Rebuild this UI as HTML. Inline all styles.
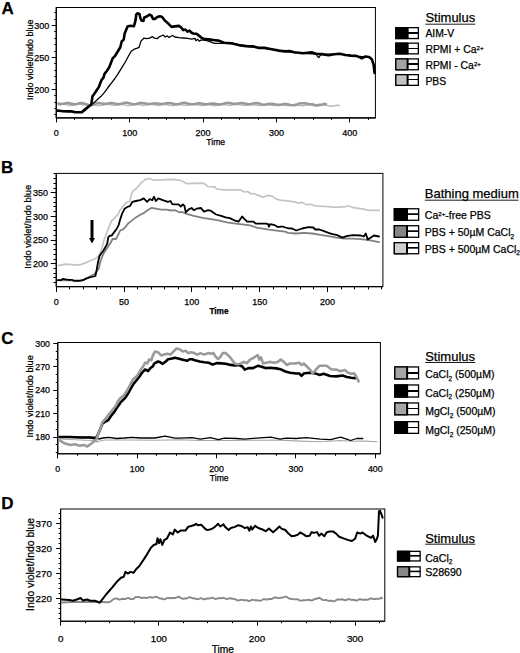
<!DOCTYPE html>
<html><head><meta charset="utf-8"><style>
html,body{margin:0;padding:0;background:#fff;}
svg{display:block;}
text{font-family:"Liberation Sans", sans-serif;fill:#000;stroke:#000;stroke-width:0.25px;}
</style></head><body>
<svg width="520" height="653" viewBox="0 0 520 653">
<rect width="520" height="653" fill="#fff"/>
<rect x="56.25" y="7.50" width="319.15" height="110.40" fill="none" stroke="#000" stroke-width="1"/>
<line x1="56.25" y1="7.50" x2="56.25" y2="117.90" stroke="#000" stroke-width="1.1"/>
<line x1="56.25" y1="117.90" x2="375.40" y2="117.90" stroke="#000" stroke-width="1.1"/>
<line x1="56.50" y1="117.90" x2="56.50" y2="122.40" stroke="#000" stroke-width="1.0"/>
<text x="56.25" y="135.80" font-size="9" text-anchor="middle" font-weight="normal" >0</text>
<line x1="129.50" y1="117.90" x2="129.50" y2="122.40" stroke="#000" stroke-width="1.0"/>
<text x="129.65" y="135.80" font-size="9" text-anchor="middle" font-weight="normal" >100</text>
<line x1="203.50" y1="117.90" x2="203.50" y2="122.40" stroke="#000" stroke-width="1.0"/>
<text x="203.05" y="135.80" font-size="9" text-anchor="middle" font-weight="normal" >200</text>
<line x1="276.50" y1="117.90" x2="276.50" y2="122.40" stroke="#000" stroke-width="1.0"/>
<text x="276.45" y="135.80" font-size="9" text-anchor="middle" font-weight="normal" >300</text>
<line x1="349.50" y1="117.90" x2="349.50" y2="122.40" stroke="#000" stroke-width="1.0"/>
<text x="349.85" y="135.80" font-size="9" text-anchor="middle" font-weight="normal" >400</text>
<line x1="74.50" y1="117.90" x2="74.50" y2="119.90" stroke="#000" stroke-width="1.0"/>
<line x1="92.50" y1="117.90" x2="92.50" y2="119.90" stroke="#000" stroke-width="1.0"/>
<line x1="111.50" y1="117.90" x2="111.50" y2="119.90" stroke="#000" stroke-width="1.0"/>
<line x1="148.50" y1="117.90" x2="148.50" y2="119.90" stroke="#000" stroke-width="1.0"/>
<line x1="166.50" y1="117.90" x2="166.50" y2="119.90" stroke="#000" stroke-width="1.0"/>
<line x1="184.50" y1="117.90" x2="184.50" y2="119.90" stroke="#000" stroke-width="1.0"/>
<line x1="221.50" y1="117.90" x2="221.50" y2="119.90" stroke="#000" stroke-width="1.0"/>
<line x1="239.50" y1="117.90" x2="239.50" y2="119.90" stroke="#000" stroke-width="1.0"/>
<line x1="258.50" y1="117.90" x2="258.50" y2="119.90" stroke="#000" stroke-width="1.0"/>
<line x1="294.50" y1="117.90" x2="294.50" y2="119.90" stroke="#000" stroke-width="1.0"/>
<line x1="313.50" y1="117.90" x2="313.50" y2="119.90" stroke="#000" stroke-width="1.0"/>
<line x1="331.50" y1="117.90" x2="331.50" y2="119.90" stroke="#000" stroke-width="1.0"/>
<line x1="368.50" y1="117.90" x2="368.50" y2="119.90" stroke="#000" stroke-width="1.0"/>
<line x1="56.25" y1="89.50" x2="51.75" y2="89.50" stroke="#000" stroke-width="1.0"/>
<text x="49.40" y="92.62" font-size="9" text-anchor="end" font-weight="normal" >200</text>
<line x1="56.25" y1="57.50" x2="51.75" y2="57.50" stroke="#000" stroke-width="1.0"/>
<text x="49.40" y="60.72" font-size="9" text-anchor="end" font-weight="normal" >250</text>
<line x1="56.25" y1="25.50" x2="51.75" y2="25.50" stroke="#000" stroke-width="1.0"/>
<text x="49.40" y="28.82" font-size="9" text-anchor="end" font-weight="normal" >300</text>
<line x1="56.25" y1="114.50" x2="54.25" y2="114.50" stroke="#000" stroke-width="1.0"/>
<line x1="56.25" y1="108.50" x2="54.25" y2="108.50" stroke="#000" stroke-width="1.0"/>
<line x1="56.25" y1="102.50" x2="54.25" y2="102.50" stroke="#000" stroke-width="1.0"/>
<line x1="56.25" y1="95.50" x2="54.25" y2="95.50" stroke="#000" stroke-width="1.0"/>
<line x1="56.25" y1="83.50" x2="54.25" y2="83.50" stroke="#000" stroke-width="1.0"/>
<line x1="56.25" y1="76.50" x2="54.25" y2="76.50" stroke="#000" stroke-width="1.0"/>
<line x1="56.25" y1="70.50" x2="54.25" y2="70.50" stroke="#000" stroke-width="1.0"/>
<line x1="56.25" y1="63.50" x2="54.25" y2="63.50" stroke="#000" stroke-width="1.0"/>
<line x1="56.25" y1="51.50" x2="54.25" y2="51.50" stroke="#000" stroke-width="1.0"/>
<line x1="56.25" y1="44.50" x2="54.25" y2="44.50" stroke="#000" stroke-width="1.0"/>
<line x1="56.25" y1="38.50" x2="54.25" y2="38.50" stroke="#000" stroke-width="1.0"/>
<line x1="56.25" y1="31.50" x2="54.25" y2="31.50" stroke="#000" stroke-width="1.0"/>
<line x1="56.25" y1="19.50" x2="54.25" y2="19.50" stroke="#000" stroke-width="1.0"/>
<line x1="56.25" y1="12.50" x2="54.25" y2="12.50" stroke="#000" stroke-width="1.0"/>
<text transform="translate(33.00,59.80) rotate(-90)" font-size="9" text-anchor="middle">Indo violet/Indo blue</text>
<text x="206.30" y="144.80" font-size="8.6" text-anchor="start" font-weight="normal" >Time</text>
<text x="1.60" y="13.70" font-size="17" text-anchor="start" font-weight="bold" >A</text>
<polyline points="58.4,104.9 59.9,104.7 61.4,104.4 62.9,104.3 64.4,104.3 65.9,104.6 67.4,105.0 68.9,105.3 70.4,105.5 71.9,105.4 73.4,105.1 74.9,104.7 76.4,104.3 77.9,104.1 79.4,104.2 80.9,104.3 82.4,104.6 83.9,104.8 85.4,104.8 86.9,104.9 88.4,104.7 89.9,104.6 91.4,104.5 92.9,104.6 94.4,104.9 95.9,105.2 97.4,105.5 98.9,105.6 100.4,105.6 101.9,105.4 103.4,105.0 104.9,104.7 106.4,104.4 107.9,104.4 109.4,104.6 110.9,104.9 112.4,105.2 113.9,105.4 115.4,105.3 116.9,105.1 118.4,104.8 119.9,104.5 121.4,104.5 122.9,104.6 124.4,104.9 125.9,105.2 127.4,105.5 128.9,105.6 130.4,105.5 131.9,105.1 133.4,104.8 134.9,104.5 136.4,104.5 137.9,104.6 139.4,104.8 140.9,105.1 142.4,105.3 143.9,105.2 145.4,105.0 146.9,104.6 148.4,104.3 149.9,104.1 151.4,104.2 152.9,104.5 154.4,104.8 155.9,105.2 157.4,105.3 158.9,105.3 160.4,105.1 161.9,104.8 163.4,104.6 164.9,104.5 166.4,104.7 167.9,105.0 169.4,105.4 170.9,105.6 172.4,105.6 173.9,105.5 175.4,105.1 176.9,104.8 178.4,104.6 179.9,104.5 181.4,104.7 182.9,105.0 184.4,105.2 185.9,105.4 187.4,105.3 188.9,105.1 190.4,104.7 191.9,104.5 193.4,104.4 194.9,104.5 196.4,104.8 197.9,105.1 199.4,105.4 200.9,105.6 202.4,105.5 203.9,105.3 205.4,105.0 206.9,104.8 208.4,104.8 209.9,104.9 211.4,105.2 212.9,105.5 214.4,105.7 215.9,105.6 217.4,105.4 218.9,105.1 220.4,104.7 221.9,104.5 223.4,104.5 224.9,104.7 226.4,104.9 227.9,105.2 229.4,105.3 230.9,105.2 232.4,105.0 233.9,104.8 235.4,104.5 236.9,104.4 238.4,104.5 239.9,104.8 241.4,105.1 242.9,105.4 244.4,105.5 245.9,105.4 247.4,105.2 248.9,104.9 250.4,104.7 251.9,104.6 253.4,104.8 254.9,105.0 256.4,105.3 257.9,105.5 259.4,105.5 260.9,105.3 262.4,105.0 263.9,104.7 265.4,104.5 266.9,104.6 268.4,104.8 269.9,105.1 271.4,105.4 272.9,105.5 274.4,105.5 275.9,105.2 277.4,104.9 278.9,104.7 280.4,104.6 281.9,104.7 283.4,105.0 284.9,105.3 286.4,105.6 287.9,105.7 289.4,105.5 290.9,105.3 292.4,105.0 293.9,104.8 295.4,104.8 296.9,105.0 298.4,105.3 299.9,105.6 301.4,105.8 302.9,105.8 304.4,105.6 305.9,105.3 307.4,105.0 308.9,104.9 310.4,105.0 311.9,105.2 313.4,105.5 314.9,105.8 316.4,106.0 317.9,105.9 319.4,105.7 320.9,105.4 322.4,105.1 323.9,105.1 325.4,105.2 326.9,105.5 328.4,105.8 329.9,106.1 331.4,106.2 332.9,106.0 334.4,105.8 335.9,105.5 337.4,105.3 338.9,105.3 339.2,106.0" fill="none" stroke="#bababa" stroke-width="1.4" stroke-linejoin="round" stroke-linecap="round"/>
<polyline points="58.4,103.6 59.9,103.9 61.4,104.0 62.9,103.8 64.4,103.5 65.9,103.2 67.4,103.1 68.9,103.1 70.4,103.4 71.9,103.9 73.4,104.1 74.9,104.2 76.4,104.1 77.9,103.8 79.4,103.3 80.9,103.0 82.4,103.1 83.9,103.4 85.4,103.9 86.9,104.4 88.4,104.9 89.9,105.2 91.4,105.2 92.9,104.8 94.4,104.2 95.9,103.5 97.4,103.1 98.9,103.0 100.4,103.2 101.9,103.6 103.4,103.8 104.9,103.8 106.4,103.8 107.9,103.6 109.4,103.3 110.9,103.1 112.4,103.1 113.9,103.4 115.4,103.7 116.9,104.0 118.4,104.1 119.9,104.0 121.4,103.7 122.9,103.3 124.4,102.9 125.9,102.7 127.4,102.8 128.9,103.2 130.4,103.6 131.9,104.0 133.4,104.2 134.9,104.3 136.4,103.9 137.9,103.5 139.4,103.1 140.9,103.0 142.4,103.0 143.9,103.2 145.4,103.5 146.9,103.9 148.4,104.1 149.9,104.0 151.4,103.8 152.9,103.6 154.4,103.5 155.9,103.4 157.4,103.5 158.9,103.7 160.4,103.9 161.9,104.0 163.4,103.9 164.9,103.6 166.4,103.3 167.9,103.1 169.4,103.0 170.9,103.2 172.4,103.5 173.9,104.0 175.4,104.3 176.9,104.3 178.4,104.2 179.9,103.8 181.4,103.3 182.9,103.0 184.4,102.8 185.9,103.0 187.4,103.4 188.9,103.8 190.4,104.2 191.9,104.3 193.4,104.3 194.9,104.0 196.4,103.7 197.9,103.4 199.4,103.3 200.9,103.5 202.4,103.7 203.9,104.0 205.4,104.2 206.9,104.2 208.4,104.1 209.9,103.8 211.4,103.6 212.9,103.5 214.4,103.7 215.9,103.9 217.4,104.2 218.9,104.4 220.4,104.4 221.9,104.2 223.4,103.8 224.9,103.3 226.4,103.0 227.9,102.9 229.4,103.0 230.9,103.2 232.4,103.5 233.9,103.7 235.4,103.8 236.9,103.7 238.4,103.4 239.9,103.2 241.4,103.1 242.9,103.2 244.4,103.5 245.9,103.8 247.4,104.1 248.9,104.2 250.4,104.1 251.9,103.8 253.4,103.4 254.9,103.1 256.4,103.0 257.9,103.2 259.4,103.6 260.9,104.1 262.4,104.5 263.9,104.7 265.4,104.6 266.9,104.3 268.4,104.0 269.9,103.8 271.4,103.7 272.9,103.9 274.4,104.2 275.9,104.6 277.4,104.9 278.9,104.9 280.4,104.7 281.9,104.4 283.4,104.1 284.9,104.0 286.4,104.0 287.9,104.3 289.4,104.7 290.9,105.0 292.4,105.2 293.9,105.1 295.4,104.9 296.9,104.4 298.4,103.8 299.9,103.5 301.4,103.3 302.9,103.3 304.4,103.4 305.9,103.3 307.4,103.7 308.9,104.0 310.4,104.2 311.9,104.3 313.4,104.6 314.9,105.0 316.4,105.2 317.9,105.0 319.4,104.9 320.9,104.7 322.4,104.5 323.9,104.0 325.4,103.9 325.8,104.0" fill="none" stroke="#999999" stroke-width="2.6" stroke-linejoin="round" stroke-linecap="round"/>
<polyline points="57.5,111.0 81.9,111.8 85.0,110.7 89.6,106.1 94.2,102.6 97.6,99.2 101.1,96.3 104.5,92.3 107.4,88.3 109.1,86.0 111.4,83.1 114.9,78.5 118.3,73.3 121.8,67.6 124.7,63.0 126.5,59.8 128.5,56.0 131.3,51.2 134.2,49.2 136.6,48.3 139.0,47.3 140.0,44.4 141.0,41.1 143.8,38.2 146.7,38.7 149.6,38.2 152.5,36.7 154.4,38.2 157.3,38.7 159.2,36.7 160.0,36.5 163.2,35.1 165.3,37.0 167.4,35.9 169.0,37.5 170.6,36.5 172.7,35.4 174.8,37.0 179.0,37.7 183.3,38.0 187.5,38.4 191.7,39.1 194.9,38.4 196.0,40.7 197.6,39.1 199.2,41.2 200.7,40.2 204.4,40.2 208.7,41.2 212.9,42.8 215.0,43.3 218.7,43.3 222.4,43.3 231.5,43.6 246.2,46.3 264.4,48.1 285.0,51.6 303.3,53.4 316.1,54.0 317.5,56.5 318.8,57.6 320.2,55.5 321.5,54.3 339.8,53.9 356.2,56.1 369.0,57.2 372.0,59.5" fill="none" stroke="#000" stroke-width="1.3" stroke-linejoin="round" stroke-linecap="round"/>
<polyline points="57.5,110.5 63.0,111.2 68.5,111.4 71.2,111.2 75.2,112.2 81.9,112.2 85.0,109.3 88.4,106.7 91.3,104.4 92.5,96.3 94.2,94.0 96.5,90.6 98.8,87.1 100.5,82.5 101.7,79.7 103.4,77.9 104.5,73.9 106.8,71.0 109.1,67.6 110.9,63.0 112.6,58.4 114.9,56.1 117.9,51.2 120.3,47.3 121.7,41.5 123.7,39.6 124.6,33.8 126.1,30.0 127.5,26.6 130.4,25.7 133.8,26.2 134.7,23.8 135.7,19.4 136.2,14.6 137.6,13.2 139.5,14.1 140.5,18.5 141.4,20.4 143.4,20.9 144.3,17.5 146.7,16.5 149.6,14.6 151.5,15.6 153.0,18.9 154.9,18.9 157.3,17.0 160.0,16.3 162.1,16.9 164.8,20.6 167.4,22.7 169.5,24.8 171.6,26.9 174.8,26.4 179.0,25.9 181.2,27.5 183.3,30.1 185.4,29.6 187.5,31.7 189.6,30.6 191.7,32.8 193.9,33.8 196.5,33.8 199.2,35.9 201.8,38.0 204.4,39.1 208.7,39.4 215.0,40.2 218.7,40.6 224.2,42.8 231.5,43.3 238.8,45.1 246.2,46.1 253.5,46.4 258.9,47.9 264.4,47.9 271.7,49.3 279.0,50.6 285.0,51.4 289.6,51.0 294.1,52.3 303.3,53.2 311.5,52.3 316.1,53.7 321.5,54.1 328.8,55.2 334.3,54.3 339.8,53.7 345.3,55.0 350.8,55.6 356.2,55.9 359.9,57.4 361.7,58.3 365.4,56.5 369.0,57.0 371.8,59.2 373.6,64.7 374.5,72.9" fill="none" stroke="#000" stroke-width="2.6" stroke-linejoin="round" stroke-linecap="round"/>
<text x="425.40" y="22.00" font-size="13" text-anchor="start" font-weight="normal" >Stimulus</text>
<rect x="395.85" y="27.65" width="22.50" height="10.90" fill="#fff" stroke="#000" stroke-width="1.3"/>
<rect x="395.85" y="27.65" width="11.73" height="10.90" fill="#000" stroke="#000" stroke-width="1.3"/>
<line x1="407.58" y1="27.50" x2="407.58" y2="38.70" stroke="#000" stroke-width="1.9"/>
<line x1="407.58" y1="33.00" x2="418.40" y2="33.00" stroke="#000" stroke-width="2.0"/>
<text x="425.40" y="37.00" font-size="10.4">AIM-V</text>
<rect x="395.85" y="43.15" width="22.50" height="10.70" fill="#fff" stroke="#000" stroke-width="1.3"/>
<rect x="395.85" y="43.15" width="11.73" height="10.70" fill="#000" stroke="#000" stroke-width="1.3"/>
<line x1="407.58" y1="43.00" x2="407.58" y2="54.00" stroke="#000" stroke-width="1.9"/>
<line x1="407.58" y1="48.50" x2="418.40" y2="48.50" stroke="#000" stroke-width="1.0"/>
<text x="425.40" y="53.10" font-size="10.4">RPMI + Ca<tspan font-size="6.2" dy="-3.2">2+</tspan></text>
<rect x="395.85" y="58.90" width="22.50" height="10.85" fill="#fff" stroke="#000" stroke-width="1.3"/>
<rect x="395.85" y="58.90" width="11.73" height="10.85" fill="#a4a4a4" stroke="#000" stroke-width="1.3"/>
<line x1="407.58" y1="58.75" x2="407.58" y2="69.90" stroke="#000" stroke-width="1.9"/>
<line x1="407.58" y1="64.00" x2="418.40" y2="64.00" stroke="#000" stroke-width="2.0"/>
<text x="425.40" y="69.30" font-size="10.4">RPMI - Ca<tspan font-size="6.2" dy="-3.2">2+</tspan></text>
<rect x="395.85" y="74.65" width="22.50" height="10.70" fill="#fff" stroke="#000" stroke-width="1.3"/>
<rect x="395.85" y="74.65" width="11.73" height="10.70" fill="#c2c2c2" stroke="#000" stroke-width="1.3"/>
<line x1="407.58" y1="74.50" x2="407.58" y2="85.50" stroke="#000" stroke-width="1.9"/>
<line x1="407.58" y1="79.50" x2="418.40" y2="79.50" stroke="#000" stroke-width="1.0"/>
<text x="425.40" y="85.40" font-size="10.4">PBS</text>
<line x1="425.40" y1="24.20" x2="475.20" y2="24.20" stroke="#000" stroke-width="0.9"/>
<rect x="56.25" y="173.40" width="326.65" height="113.20" fill="none" stroke="#000" stroke-width="1"/>
<line x1="56.25" y1="173.40" x2="56.25" y2="286.60" stroke="#000" stroke-width="1.1"/>
<line x1="56.25" y1="286.60" x2="382.90" y2="286.60" stroke="#000" stroke-width="1.1"/>
<line x1="56.50" y1="286.60" x2="56.50" y2="292.10" stroke="#000" stroke-width="1.0"/>
<text x="56.25" y="304.60" font-size="9" text-anchor="middle" font-weight="normal" >0</text>
<line x1="124.50" y1="286.60" x2="124.50" y2="292.10" stroke="#000" stroke-width="1.0"/>
<text x="124.05" y="304.60" font-size="9" text-anchor="middle" font-weight="normal" >50</text>
<line x1="191.50" y1="286.60" x2="191.50" y2="292.10" stroke="#000" stroke-width="1.0"/>
<text x="191.85" y="304.60" font-size="9" text-anchor="middle" font-weight="normal" >100</text>
<line x1="259.50" y1="286.60" x2="259.50" y2="292.10" stroke="#000" stroke-width="1.0"/>
<text x="259.65" y="304.60" font-size="9" text-anchor="middle" font-weight="normal" >150</text>
<line x1="327.50" y1="286.60" x2="327.50" y2="292.10" stroke="#000" stroke-width="1.0"/>
<text x="327.45" y="304.60" font-size="9" text-anchor="middle" font-weight="normal" >200</text>
<line x1="69.50" y1="286.60" x2="69.50" y2="289.40" stroke="#000" stroke-width="1.0"/>
<line x1="83.50" y1="286.60" x2="83.50" y2="289.40" stroke="#000" stroke-width="1.0"/>
<line x1="96.50" y1="286.60" x2="96.50" y2="289.40" stroke="#000" stroke-width="1.0"/>
<line x1="110.50" y1="286.60" x2="110.50" y2="289.40" stroke="#000" stroke-width="1.0"/>
<line x1="137.50" y1="286.60" x2="137.50" y2="289.40" stroke="#000" stroke-width="1.0"/>
<line x1="151.50" y1="286.60" x2="151.50" y2="289.40" stroke="#000" stroke-width="1.0"/>
<line x1="164.50" y1="286.60" x2="164.50" y2="289.40" stroke="#000" stroke-width="1.0"/>
<line x1="178.50" y1="286.60" x2="178.50" y2="289.40" stroke="#000" stroke-width="1.0"/>
<line x1="205.50" y1="286.60" x2="205.50" y2="289.40" stroke="#000" stroke-width="1.0"/>
<line x1="218.50" y1="286.60" x2="218.50" y2="289.40" stroke="#000" stroke-width="1.0"/>
<line x1="232.50" y1="286.60" x2="232.50" y2="289.40" stroke="#000" stroke-width="1.0"/>
<line x1="246.50" y1="286.60" x2="246.50" y2="289.40" stroke="#000" stroke-width="1.0"/>
<line x1="273.50" y1="286.60" x2="273.50" y2="289.40" stroke="#000" stroke-width="1.0"/>
<line x1="286.50" y1="286.60" x2="286.50" y2="289.40" stroke="#000" stroke-width="1.0"/>
<line x1="300.50" y1="286.60" x2="300.50" y2="289.40" stroke="#000" stroke-width="1.0"/>
<line x1="313.50" y1="286.60" x2="313.50" y2="289.40" stroke="#000" stroke-width="1.0"/>
<line x1="341.50" y1="286.60" x2="341.50" y2="289.40" stroke="#000" stroke-width="1.0"/>
<line x1="354.50" y1="286.60" x2="354.50" y2="289.40" stroke="#000" stroke-width="1.0"/>
<line x1="368.50" y1="286.60" x2="368.50" y2="289.40" stroke="#000" stroke-width="1.0"/>
<line x1="381.50" y1="286.60" x2="381.50" y2="289.40" stroke="#000" stroke-width="1.0"/>
<line x1="56.25" y1="263.50" x2="50.75" y2="263.50" stroke="#000" stroke-width="1.0"/>
<text x="48.00" y="266.97" font-size="9" text-anchor="end" font-weight="normal" >200</text>
<line x1="56.25" y1="240.50" x2="50.75" y2="240.50" stroke="#000" stroke-width="1.0"/>
<text x="48.00" y="243.31" font-size="9" text-anchor="end" font-weight="normal" >250</text>
<line x1="56.25" y1="216.50" x2="50.75" y2="216.50" stroke="#000" stroke-width="1.0"/>
<text x="48.00" y="219.64" font-size="9" text-anchor="end" font-weight="normal" >300</text>
<line x1="56.25" y1="192.50" x2="50.75" y2="192.50" stroke="#000" stroke-width="1.0"/>
<text x="48.00" y="195.98" font-size="9" text-anchor="end" font-weight="normal" >350</text>
<line x1="56.25" y1="282.50" x2="53.45" y2="282.50" stroke="#000" stroke-width="1.0"/>
<line x1="56.25" y1="277.50" x2="53.45" y2="277.50" stroke="#000" stroke-width="1.0"/>
<line x1="56.25" y1="273.50" x2="53.45" y2="273.50" stroke="#000" stroke-width="1.0"/>
<line x1="56.25" y1="268.50" x2="53.45" y2="268.50" stroke="#000" stroke-width="1.0"/>
<line x1="56.25" y1="259.50" x2="53.45" y2="259.50" stroke="#000" stroke-width="1.0"/>
<line x1="56.25" y1="254.50" x2="53.45" y2="254.50" stroke="#000" stroke-width="1.0"/>
<line x1="56.25" y1="249.50" x2="53.45" y2="249.50" stroke="#000" stroke-width="1.0"/>
<line x1="56.25" y1="244.50" x2="53.45" y2="244.50" stroke="#000" stroke-width="1.0"/>
<line x1="56.25" y1="235.50" x2="53.45" y2="235.50" stroke="#000" stroke-width="1.0"/>
<line x1="56.25" y1="230.50" x2="53.45" y2="230.50" stroke="#000" stroke-width="1.0"/>
<line x1="56.25" y1="225.50" x2="53.45" y2="225.50" stroke="#000" stroke-width="1.0"/>
<line x1="56.25" y1="221.50" x2="53.45" y2="221.50" stroke="#000" stroke-width="1.0"/>
<line x1="56.25" y1="211.50" x2="53.45" y2="211.50" stroke="#000" stroke-width="1.0"/>
<line x1="56.25" y1="206.50" x2="53.45" y2="206.50" stroke="#000" stroke-width="1.0"/>
<line x1="56.25" y1="202.50" x2="53.45" y2="202.50" stroke="#000" stroke-width="1.0"/>
<line x1="56.25" y1="197.50" x2="53.45" y2="197.50" stroke="#000" stroke-width="1.0"/>
<line x1="56.25" y1="188.50" x2="53.45" y2="188.50" stroke="#000" stroke-width="1.0"/>
<line x1="56.25" y1="183.50" x2="53.45" y2="183.50" stroke="#000" stroke-width="1.0"/>
<line x1="56.25" y1="178.50" x2="53.45" y2="178.50" stroke="#000" stroke-width="1.0"/>
<line x1="56.25" y1="173.50" x2="53.45" y2="173.50" stroke="#000" stroke-width="1.0"/>
<text transform="translate(31.20,226.70) rotate(-90)" font-size="9.4" text-anchor="middle">Indo violet/Indo blue</text>
<text x="209.40" y="313.80" font-size="8.3" text-anchor="start" font-weight="bold" >Time</text>
<text x="0.90" y="173.30" font-size="17" text-anchor="start" font-weight="bold" >B</text>
<polyline points="58.5,265.6 61.9,264.8 65.4,264.1 70.0,264.4 74.6,265.2 81.5,264.4 87.3,262.1 90.0,260.7 93.1,259.8 96.9,257.7 99.5,254.6 102.1,247.7 103.8,240.8 106.4,233.8 109.0,226.9 111.6,220.9 115.1,217.4 117.7,214.8 120.3,209.6 123.7,205.3 126.3,202.7 129.8,201.0 131.5,194.0 133.3,190.6 135.9,188.8 138.5,186.2 141.1,182.8 145.4,179.3 149.7,178.5 154.0,180.2 162.7,179.8 171.3,179.3 180.0,180.2 183.0,181.5 186.9,183.7 192.7,183.3 203.1,183.1 205.5,184.5 207.7,186.5 214.6,186.8 216.9,189.1 223.8,189.8 240.0,189.8 244.6,192.0 247.7,191.5 250.8,193.8 253.8,193.5 258.5,195.4 263.1,197.2 267.7,195.4 272.3,196.2 276.2,199.2 281.5,200.3 287.7,200.8 293.8,201.8 298.5,203.1 301.5,202.3 306.2,204.6 310.8,204.3 314.6,205.8 319.2,206.1 325.4,206.5 331.5,206.8 336.2,207.3 340.8,206.8 344.6,207.0 348.5,205.8 352.3,207.3 356.2,208.1 362.3,208.8 367.7,210.1 373.1,210.4 379.2,210.4" fill="none" stroke="#c4c4c4" stroke-width="1.7" stroke-linejoin="round" stroke-linecap="round"/>
<polyline points="57.9,280.4 82.7,280.4 86.2,278.4 89.6,276.5 94.2,274.2 95.4,273.0 98.8,268.5 100.4,261.5 103.0,254.6 107.3,247.7 110.8,242.5 112.5,239.0 116.0,239.0 118.6,233.8 120.3,230.4 122.9,229.5 125.5,226.9 128.1,223.5 131.5,220.9 135.9,217.4 140.2,214.8 143.7,213.1 147.1,210.5 151.4,207.9 155.8,208.7 161.0,209.6 166.2,209.6 171.3,210.5 175.0,210.2 179.3,212.3 182.2,212.0 186.5,213.8 193.8,215.9 203.9,218.1 211.1,219.2 218.3,220.3 227.0,222.4 235.6,223.6 244.3,224.6 250.0,225.3 256.7,227.6 268.9,229.6 276.9,230.6 285.0,231.6 288.1,232.9 296.2,233.5 304.2,232.9 312.3,233.5 320.4,234.9 328.5,236.1 336.5,237.6 344.6,238.6 352.7,238.6 360.8,239.2 368.9,240.2 379.0,242.2" fill="none" stroke="#808080" stroke-width="1.8" stroke-linejoin="round" stroke-linecap="round"/>
<polyline points="57.9,280.2 60.8,280.2 63.1,278.8 65.4,279.4 68.8,279.8 71.7,279.8 74.0,280.9 76.9,280.9 79.8,280.9 82.7,280.2 86.2,278.6 89.6,277.5 95.4,276.0 96.5,270.8 97.7,263.8 99.4,256.3 101.2,253.5 103.0,251.2 105.6,246.8 107.3,243.4 108.2,237.3 109.9,235.6 111.6,235.6 114.2,232.1 116.8,228.7 118.6,225.2 120.3,219.1 122.0,213.9 124.6,208.7 127.2,207.0 129.8,206.2 132.4,201.8 135.9,201.0 140.2,200.1 143.7,198.4 147.1,201.8 149.7,199.2 152.3,200.1 154.0,196.6 155.8,201.0 158.4,198.4 162.7,200.1 167.9,201.8 170.5,201.0 172.2,204.1 175.0,204.4 178.6,204.4 180.8,206.5 182.9,204.4 184.4,205.8 185.8,212.3 188.7,209.4 191.6,208.0 193.8,210.2 196.6,208.7 201.0,208.0 203.9,211.6 208.2,210.2 211.1,210.9 216.1,214.5 221.2,215.9 225.5,217.4 229.8,218.1 234.2,220.3 238.5,221.7 242.1,216.4 244.3,218.8 247.2,221.7 250.0,221.6 253.4,221.6 255.9,223.7 266.0,223.7 268.1,224.2 269.0,226.7 270.2,224.2 272.7,224.6 275.3,225.4 277.8,227.1 280.3,226.7 282.8,226.7 285.4,227.5 288.7,228.4 292.1,228.5 296.2,230.5 302.2,228.5 308.3,227.1 313.3,227.5 315.3,229.5 319.4,229.5 323.4,230.9 328.5,232.9 332.5,234.1 336.5,234.9 342.6,237.6 346.6,236.1 352.7,235.1 360.8,235.5 363.8,236.5 365.8,233.5 367.8,239.6 370.9,237.6 373.9,235.5 379.0,236.5" fill="none" stroke="#000" stroke-width="1.8" stroke-linejoin="round" stroke-linecap="round"/>
<line x1="92.00" y1="220.00" x2="92.00" y2="239.00" stroke="#000" stroke-width="3.0"/>
<polygon points="89.0,238 95.0,238 92,243.6" fill="#000"/>
<text x="424.80" y="198.30" font-size="13" text-anchor="start" font-weight="normal" >Bathing medium</text>
<rect x="394.35" y="208.75" width="24.30" height="11.50" fill="#fff" stroke="#000" stroke-width="1.3"/>
<rect x="394.35" y="208.75" width="12.66" height="11.50" fill="#000" stroke="#000" stroke-width="1.3"/>
<line x1="407.01" y1="208.60" x2="407.01" y2="220.40" stroke="#000" stroke-width="1.9"/>
<line x1="407.01" y1="214.12" x2="418.70" y2="214.12" stroke="#000" stroke-width="1.7"/>
<text x="424.80" y="218.80" font-size="10.5">Ca<tspan font-size="6.2" dy="-3.2">2+</tspan><tspan dy="3.2">-free PBS</tspan></text>
<rect x="394.35" y="225.75" width="24.30" height="11.50" fill="#fff" stroke="#000" stroke-width="1.3"/>
<rect x="394.35" y="225.75" width="12.66" height="11.50" fill="#868686" stroke="#000" stroke-width="1.3"/>
<line x1="407.01" y1="225.60" x2="407.01" y2="237.40" stroke="#000" stroke-width="1.9"/>
<line x1="407.01" y1="231.12" x2="418.70" y2="231.12" stroke="#000" stroke-width="1.7"/>
<text x="424.80" y="236.00" font-size="10.5">PBS + 50µM CaCl<tspan font-size="6.5" dy="2.5">2</tspan></text>
<rect x="394.35" y="242.65" width="24.30" height="11.10" fill="#fff" stroke="#000" stroke-width="1.3"/>
<rect x="394.35" y="242.65" width="12.66" height="11.10" fill="#cfcfcf" stroke="#000" stroke-width="1.3"/>
<line x1="407.01" y1="242.50" x2="407.01" y2="253.90" stroke="#000" stroke-width="1.9"/>
<line x1="407.01" y1="247.83" x2="418.70" y2="247.83" stroke="#000" stroke-width="1.7"/>
<text x="424.80" y="252.90" font-size="10.5">PBS + 500µM CaCl<tspan font-size="6.5" dy="2.5">2</tspan></text>
<line x1="424.80" y1="200.20" x2="518.50" y2="200.20" stroke="#000" stroke-width="0.9"/>
<rect x="57.75" y="342.50" width="322.65" height="111.30" fill="none" stroke="#000" stroke-width="1"/>
<line x1="57.75" y1="342.50" x2="57.75" y2="453.80" stroke="#000" stroke-width="1.1"/>
<line x1="57.75" y1="453.80" x2="380.40" y2="453.80" stroke="#000" stroke-width="1.1"/>
<line x1="57.50" y1="453.80" x2="57.50" y2="458.30" stroke="#000" stroke-width="1.0"/>
<text x="57.70" y="472.20" font-size="8.8" text-anchor="middle" font-weight="normal" >0</text>
<line x1="137.50" y1="453.80" x2="137.50" y2="458.30" stroke="#000" stroke-width="1.0"/>
<text x="137.10" y="472.20" font-size="8.8" text-anchor="middle" font-weight="normal" >100</text>
<line x1="216.50" y1="453.80" x2="216.50" y2="458.30" stroke="#000" stroke-width="1.0"/>
<text x="216.50" y="472.20" font-size="8.8" text-anchor="middle" font-weight="normal" >200</text>
<line x1="295.50" y1="453.80" x2="295.50" y2="458.30" stroke="#000" stroke-width="1.0"/>
<text x="295.90" y="472.20" font-size="8.8" text-anchor="middle" font-weight="normal" >300</text>
<line x1="375.50" y1="453.80" x2="375.50" y2="458.30" stroke="#000" stroke-width="1.0"/>
<text x="375.30" y="472.20" font-size="8.8" text-anchor="middle" font-weight="normal" >400</text>
<line x1="77.50" y1="453.80" x2="77.50" y2="455.80" stroke="#000" stroke-width="1.0"/>
<line x1="97.50" y1="453.80" x2="97.50" y2="455.80" stroke="#000" stroke-width="1.0"/>
<line x1="117.50" y1="453.80" x2="117.50" y2="455.80" stroke="#000" stroke-width="1.0"/>
<line x1="156.50" y1="453.80" x2="156.50" y2="455.80" stroke="#000" stroke-width="1.0"/>
<line x1="176.50" y1="453.80" x2="176.50" y2="455.80" stroke="#000" stroke-width="1.0"/>
<line x1="196.50" y1="453.80" x2="196.50" y2="455.80" stroke="#000" stroke-width="1.0"/>
<line x1="236.50" y1="453.80" x2="236.50" y2="455.80" stroke="#000" stroke-width="1.0"/>
<line x1="256.50" y1="453.80" x2="256.50" y2="455.80" stroke="#000" stroke-width="1.0"/>
<line x1="276.50" y1="453.80" x2="276.50" y2="455.80" stroke="#000" stroke-width="1.0"/>
<line x1="315.50" y1="453.80" x2="315.50" y2="455.80" stroke="#000" stroke-width="1.0"/>
<line x1="335.50" y1="453.80" x2="335.50" y2="455.80" stroke="#000" stroke-width="1.0"/>
<line x1="355.50" y1="453.80" x2="355.50" y2="455.80" stroke="#000" stroke-width="1.0"/>
<line x1="57.75" y1="437.50" x2="53.25" y2="437.50" stroke="#000" stroke-width="1.0"/>
<text x="50.00" y="440.15" font-size="8.8" text-anchor="end" font-weight="normal" >180</text>
<line x1="57.75" y1="413.50" x2="53.25" y2="413.50" stroke="#000" stroke-width="1.0"/>
<text x="50.00" y="416.75" font-size="8.8" text-anchor="end" font-weight="normal" >210</text>
<line x1="57.75" y1="390.50" x2="53.25" y2="390.50" stroke="#000" stroke-width="1.0"/>
<text x="50.00" y="393.35" font-size="8.8" text-anchor="end" font-weight="normal" >240</text>
<line x1="57.75" y1="366.50" x2="53.25" y2="366.50" stroke="#000" stroke-width="1.0"/>
<text x="50.00" y="369.95" font-size="8.8" text-anchor="end" font-weight="normal" >270</text>
<line x1="57.75" y1="343.50" x2="53.25" y2="343.50" stroke="#000" stroke-width="1.0"/>
<text x="50.00" y="346.55" font-size="8.8" text-anchor="end" font-weight="normal" >300</text>
<line x1="57.75" y1="452.50" x2="55.75" y2="452.50" stroke="#000" stroke-width="1.0"/>
<line x1="57.75" y1="444.50" x2="55.75" y2="444.50" stroke="#000" stroke-width="1.0"/>
<line x1="57.75" y1="429.50" x2="55.75" y2="429.50" stroke="#000" stroke-width="1.0"/>
<line x1="57.75" y1="421.50" x2="55.75" y2="421.50" stroke="#000" stroke-width="1.0"/>
<line x1="57.75" y1="405.50" x2="55.75" y2="405.50" stroke="#000" stroke-width="1.0"/>
<line x1="57.75" y1="398.50" x2="55.75" y2="398.50" stroke="#000" stroke-width="1.0"/>
<line x1="57.75" y1="382.50" x2="55.75" y2="382.50" stroke="#000" stroke-width="1.0"/>
<line x1="57.75" y1="374.50" x2="55.75" y2="374.50" stroke="#000" stroke-width="1.0"/>
<line x1="57.75" y1="359.50" x2="55.75" y2="359.50" stroke="#000" stroke-width="1.0"/>
<line x1="57.75" y1="351.50" x2="55.75" y2="351.50" stroke="#000" stroke-width="1.0"/>
<text transform="translate(33.00,396.30) rotate(-90)" font-size="9.2" text-anchor="middle">Indo violet/Indo blue</text>
<text x="209.80" y="481.40" font-size="8.6" text-anchor="start" font-weight="normal" >Time</text>
<text x="1.30" y="344.10" font-size="17" text-anchor="start" font-weight="bold" >C</text>
<polyline points="59.6,439.0 70.0,439.5 80.0,440.0 92.5,440.5 96.5,441.9 100.0,441.0 105.0,440.0 130.0,440.0 155.0,440.2 180.0,439.7 200.0,440.5 230.0,440.5 260.0,440.2 280.0,440.1 300.2,441.1 320.4,441.7 340.6,440.5 352.7,441.3 364.8,441.1 377.0,441.7" fill="none" stroke="#a8a8a8" stroke-width="1.1" stroke-linejoin="round" stroke-linecap="round"/>
<polyline points="59.6,437.0 96.5,437.5 99.0,439.0 102.7,438.0 108.8,437.3 116.5,438.5 124.2,438.0 131.9,437.3 140.0,438.0 155.0,438.0 165.0,436.2 175.0,438.2 180.0,438.1 192.1,437.7 200.2,439.1 210.3,437.7 218.4,439.7 224.4,438.1 236.5,438.5 244.6,439.1 256.7,438.1 270.9,437.1 280.0,439.1 286.0,438.1 296.2,438.5 306.3,437.7 320.4,439.1 330.5,439.7 340.6,437.1 346.6,439.1 350.7,440.5 356.7,438.5 362.8,438.5" fill="none" stroke="#000" stroke-width="1.3" stroke-linejoin="round" stroke-linecap="round"/>
<polyline points="59.6,437.0 70.0,437.0 80.0,437.5 90.0,437.5 96.1,438.4 98.4,433.5 100.7,428.0 102.5,423.5 105.3,421.6 108.4,420.0 111.4,415.4 114.5,411.6 117.0,407.5 119.1,404.7 120.6,402.4 123.0,400.0 125.2,397.8 128.3,393.2 130.5,389.0 132.9,384.8 135.9,381.0 139.0,377.2 142.1,372.6 145.1,369.5 148.2,371.0 150.5,368.0 152.8,366.4 154.3,363.4 155.0,363.1 158.1,361.5 160.4,362.3 162.7,363.8 165.8,361.5 168.1,359.2 171.9,358.5 175.0,357.7 178.1,358.5 182.7,359.7 187.3,360.8 189.6,359.2 191.9,359.2 195.0,360.3 199.6,361.5 204.2,362.3 208.8,362.8 212.7,364.6 216.5,363.1 221.2,363.4 225.8,363.8 230.4,364.9 235.0,365.4 239.2,365.0 242.3,366.5 244.6,369.6 248.5,368.1 253.1,368.1 257.7,365.8 260.8,366.5 265.4,368.1 270.0,367.8 276.2,368.4 280.8,369.3 285.4,371.5 290.0,372.7 296.2,373.5 299.2,373.5 301.5,375.8 303.8,373.5 306.9,373.0 310.0,372.7 315.2,373.4 319.4,374.9 323.7,373.8 330.0,376.0 336.3,376.4 342.7,375.5 346.9,377.0 351.2,377.7 355.0,378.1" fill="none" stroke="#000" stroke-width="2.6" stroke-linejoin="round" stroke-linecap="round"/>
<polyline points="59.6,440.4 64.2,443.2 70.4,445.0 75.0,444.2 79.6,445.8 84.2,445.0 87.3,446.5 90.4,444.2 93.5,441.9 95.8,439.6 96.1,440.0 98.4,433.8 100.7,427.7 102.3,422.3 104.5,420.0 106.8,417.0 109.9,413.1 113.0,409.3 116.0,405.5 117.6,401.7 119.9,398.6 123.7,395.5 126.8,391.0 129.0,387.1 131.3,382.5 133.6,378.7 136.7,376.4 139.0,372.6 141.3,368.7 143.6,365.7 145.1,362.6 147.4,363.4 149.0,359.5 151.3,360.3 152.8,355.7 155.0,351.5 158.1,352.3 161.2,355.4 164.2,354.6 167.3,353.8 170.4,354.6 173.5,351.5 176.5,348.5 179.6,349.2 182.7,351.5 185.8,350.8 188.1,353.1 191.2,352.3 194.2,353.1 197.3,354.6 200.4,353.1 204.2,354.6 208.1,353.1 211.2,353.8 213.5,353.1 215.8,356.9 218.1,359.2 220.4,356.9 222.7,353.1 225.8,353.1 228.1,355.4 230.4,357.7 232.7,360.8 235.0,363.8 237.7,364.2 240.8,363.5 243.8,361.9 246.9,363.2 250.0,359.6 253.1,358.1 255.4,356.5 257.7,355.0 259.2,359.6 260.8,357.3 263.1,363.5 266.2,362.7 270.0,361.9 274.6,362.7 277.7,361.9 280.8,359.6 283.8,361.9 286.9,365.0 290.0,363.5 294.6,363.5 299.2,362.7 301.5,365.0 303.8,363.5 306.9,366.5 310.0,369.6 312.7,373.4 316.3,369.2 319.4,365.8 326.8,365.8 331.1,369.2 336.3,369.6 340.6,371.3 344.8,370.0 348.0,372.8 351.2,373.8 354.3,373.4 356.4,377.0 358.6,381.3" fill="none" stroke="#9a9a9a" stroke-width="2.6" stroke-linejoin="round" stroke-linecap="round"/>
<text x="425.20" y="361.00" font-size="13" text-anchor="start" font-weight="normal" >Stimulus</text>
<rect x="394.85" y="366.95" width="23.70" height="11.90" fill="#fff" stroke="#000" stroke-width="1.3"/>
<rect x="394.85" y="366.95" width="12.35" height="11.90" fill="#a6a6a6" stroke="#000" stroke-width="1.3"/>
<line x1="407.20" y1="366.80" x2="407.20" y2="379.00" stroke="#000" stroke-width="1.9"/>
<line x1="407.20" y1="373.00" x2="418.60" y2="373.00" stroke="#000" stroke-width="2.0"/>
<text x="425.20" y="378.10" font-size="10.5">CaCl<tspan font-size="6.5" dy="2.5">2</tspan><tspan dy="-2.5"> (500µM)</tspan></text>
<rect x="394.85" y="384.95" width="23.70" height="12.10" fill="#fff" stroke="#000" stroke-width="1.3"/>
<rect x="394.85" y="384.95" width="12.35" height="12.10" fill="#000" stroke="#000" stroke-width="1.3"/>
<line x1="407.20" y1="384.80" x2="407.20" y2="397.20" stroke="#000" stroke-width="1.9"/>
<line x1="407.20" y1="391.00" x2="418.60" y2="391.00" stroke="#000" stroke-width="2.0"/>
<text x="425.20" y="396.60" font-size="10.5">CaCl<tspan font-size="6.5" dy="2.5">2</tspan><tspan dy="-2.5"> (250µM)</tspan></text>
<rect x="394.85" y="402.95" width="23.70" height="11.80" fill="#fff" stroke="#000" stroke-width="1.3"/>
<rect x="394.85" y="402.95" width="12.35" height="11.80" fill="#a6a6a6" stroke="#000" stroke-width="1.3"/>
<line x1="407.20" y1="402.80" x2="407.20" y2="414.90" stroke="#000" stroke-width="1.9"/>
<line x1="407.20" y1="408.50" x2="418.60" y2="408.50" stroke="#000" stroke-width="1.0"/>
<text x="425.20" y="415.40" font-size="10.5">MgCl<tspan font-size="6.5" dy="2.5">2</tspan><tspan dy="-2.5"> (500µM)</tspan></text>
<rect x="394.85" y="421.65" width="23.70" height="11.70" fill="#fff" stroke="#000" stroke-width="1.3"/>
<rect x="394.85" y="421.65" width="12.35" height="11.70" fill="#000" stroke="#000" stroke-width="1.3"/>
<line x1="407.20" y1="421.50" x2="407.20" y2="433.50" stroke="#000" stroke-width="1.9"/>
<line x1="407.20" y1="427.50" x2="418.60" y2="427.50" stroke="#000" stroke-width="1.0"/>
<text x="425.20" y="434.20" font-size="10.5">MgCl<tspan font-size="6.5" dy="2.5">2</tspan><tspan dy="-2.5"> (250µM)</tspan></text>
<line x1="425.20" y1="362.50" x2="475.30" y2="362.50" stroke="#000" stroke-width="0.9"/>
<rect x="60.60" y="509.00" width="324.20" height="112.20" fill="none" stroke="#000" stroke-width="1"/>
<line x1="60.60" y1="509.00" x2="60.60" y2="621.20" stroke="#000" stroke-width="1.1"/>
<line x1="60.60" y1="621.20" x2="384.80" y2="621.20" stroke="#000" stroke-width="1.1"/>
<line x1="60.50" y1="621.20" x2="60.50" y2="625.70" stroke="#000" stroke-width="1.0"/>
<text x="60.80" y="641.75" font-size="9.8" text-anchor="middle" font-weight="normal" >0</text>
<line x1="158.50" y1="621.20" x2="158.50" y2="625.70" stroke="#000" stroke-width="1.0"/>
<text x="158.90" y="641.75" font-size="9.8" text-anchor="middle" font-weight="normal" >100</text>
<line x1="257.50" y1="621.20" x2="257.50" y2="625.70" stroke="#000" stroke-width="1.0"/>
<text x="257.00" y="641.75" font-size="9.8" text-anchor="middle" font-weight="normal" >200</text>
<line x1="355.50" y1="621.20" x2="355.50" y2="625.70" stroke="#000" stroke-width="1.0"/>
<text x="355.10" y="641.75" font-size="9.8" text-anchor="middle" font-weight="normal" >300</text>
<line x1="85.50" y1="621.20" x2="85.50" y2="623.20" stroke="#000" stroke-width="1.0"/>
<line x1="109.50" y1="621.20" x2="109.50" y2="623.20" stroke="#000" stroke-width="1.0"/>
<line x1="134.50" y1="621.20" x2="134.50" y2="623.20" stroke="#000" stroke-width="1.0"/>
<line x1="183.50" y1="621.20" x2="183.50" y2="623.20" stroke="#000" stroke-width="1.0"/>
<line x1="207.50" y1="621.20" x2="207.50" y2="623.20" stroke="#000" stroke-width="1.0"/>
<line x1="232.50" y1="621.20" x2="232.50" y2="623.20" stroke="#000" stroke-width="1.0"/>
<line x1="281.50" y1="621.20" x2="281.50" y2="623.20" stroke="#000" stroke-width="1.0"/>
<line x1="306.50" y1="621.20" x2="306.50" y2="623.20" stroke="#000" stroke-width="1.0"/>
<line x1="330.50" y1="621.20" x2="330.50" y2="623.20" stroke="#000" stroke-width="1.0"/>
<line x1="379.50" y1="621.20" x2="379.50" y2="623.20" stroke="#000" stroke-width="1.0"/>
<line x1="60.60" y1="598.50" x2="56.10" y2="598.50" stroke="#000" stroke-width="1.0"/>
<text x="51.90" y="602.01" font-size="9.8" text-anchor="end" font-weight="normal" >220</text>
<line x1="60.60" y1="573.50" x2="56.10" y2="573.50" stroke="#000" stroke-width="1.0"/>
<text x="51.90" y="577.01" font-size="9.8" text-anchor="end" font-weight="normal" >270</text>
<line x1="60.60" y1="548.50" x2="56.10" y2="548.50" stroke="#000" stroke-width="1.0"/>
<text x="51.90" y="552.01" font-size="9.8" text-anchor="end" font-weight="normal" >320</text>
<line x1="60.60" y1="523.50" x2="56.10" y2="523.50" stroke="#000" stroke-width="1.0"/>
<text x="51.90" y="527.01" font-size="9.8" text-anchor="end" font-weight="normal" >370</text>
<line x1="60.60" y1="618.50" x2="58.60" y2="618.50" stroke="#000" stroke-width="1.0"/>
<line x1="60.60" y1="613.50" x2="58.60" y2="613.50" stroke="#000" stroke-width="1.0"/>
<line x1="60.60" y1="608.50" x2="58.60" y2="608.50" stroke="#000" stroke-width="1.0"/>
<line x1="60.60" y1="603.50" x2="58.60" y2="603.50" stroke="#000" stroke-width="1.0"/>
<line x1="60.60" y1="593.50" x2="58.60" y2="593.50" stroke="#000" stroke-width="1.0"/>
<line x1="60.60" y1="588.50" x2="58.60" y2="588.50" stroke="#000" stroke-width="1.0"/>
<line x1="60.60" y1="583.50" x2="58.60" y2="583.50" stroke="#000" stroke-width="1.0"/>
<line x1="60.60" y1="578.50" x2="58.60" y2="578.50" stroke="#000" stroke-width="1.0"/>
<line x1="60.60" y1="568.50" x2="58.60" y2="568.50" stroke="#000" stroke-width="1.0"/>
<line x1="60.60" y1="563.50" x2="58.60" y2="563.50" stroke="#000" stroke-width="1.0"/>
<line x1="60.60" y1="558.50" x2="58.60" y2="558.50" stroke="#000" stroke-width="1.0"/>
<line x1="60.60" y1="553.50" x2="58.60" y2="553.50" stroke="#000" stroke-width="1.0"/>
<line x1="60.60" y1="543.50" x2="58.60" y2="543.50" stroke="#000" stroke-width="1.0"/>
<line x1="60.60" y1="538.50" x2="58.60" y2="538.50" stroke="#000" stroke-width="1.0"/>
<line x1="60.60" y1="533.50" x2="58.60" y2="533.50" stroke="#000" stroke-width="1.0"/>
<line x1="60.60" y1="528.50" x2="58.60" y2="528.50" stroke="#000" stroke-width="1.0"/>
<line x1="60.60" y1="518.50" x2="58.60" y2="518.50" stroke="#000" stroke-width="1.0"/>
<line x1="60.60" y1="513.50" x2="58.60" y2="513.50" stroke="#000" stroke-width="1.0"/>
<text transform="translate(33.50,564.40) rotate(-90)" font-size="10.4" text-anchor="middle">Indo violet/Indo blue</text>
<text x="211.75" y="652.90" font-size="10.2" text-anchor="start" font-weight="normal" >Time</text>
<text x="1.20" y="508.70" font-size="17" text-anchor="start" font-weight="bold" >D</text>
<polyline points="61.8,602.5 73.0,602.0 83.0,602.0 95.0,601.7 108.0,602.3 109.6,602.1 111.2,601.0 112.8,599.6 114.4,598.9 116.0,598.4 117.6,598.9 119.2,599.5 120.8,599.2 122.4,598.8 124.0,599.0 125.6,599.0 127.2,598.1 128.8,598.0 130.4,599.1 132.0,599.1 133.6,598.8 135.2,597.2 136.8,597.1 138.4,597.0 140.0,597.4 141.6,598.0 143.2,597.6 144.8,597.7 146.4,598.2 148.0,597.6 149.6,597.1 151.2,597.3 152.8,597.7 154.4,597.1 156.0,596.7 157.6,597.3 159.2,598.2 160.8,598.5 162.4,598.8 164.0,599.3 165.6,598.9 167.2,598.0 168.8,598.0 170.4,598.3 172.0,598.0 173.6,597.9 175.2,598.0 176.8,597.4 178.4,596.7 180.0,597.4 181.6,598.4 183.2,598.7 184.8,598.5 186.4,598.5 188.0,597.9 189.6,597.2 191.2,597.6 192.8,598.3 194.4,598.3 196.0,599.0 197.6,599.2 199.2,598.8 200.8,598.2 202.4,598.6 204.0,599.3 205.6,599.0 207.2,598.5 208.8,598.5 210.4,598.2 212.0,597.7 213.6,598.2 215.2,599.0 216.8,598.7 218.4,598.1 220.0,598.2 221.6,598.1 223.2,597.8 224.8,598.3 226.4,599.0 228.0,598.7 229.6,598.2 231.2,598.5 232.8,598.8 234.4,598.9 236.0,599.6 237.6,600.5 239.2,600.4 240.8,599.9 242.4,599.9 244.0,600.2 245.6,600.1 247.2,600.4 248.8,601.0 250.4,600.6 252.0,599.8 253.6,599.9 255.2,600.3 256.8,600.3 258.4,600.5 260.0,600.9 261.6,600.3 263.2,599.3 264.8,599.2 266.4,599.5 268.0,599.3 269.6,599.0 271.2,599.1 272.8,598.4 274.4,597.5 276.0,597.5 277.6,598.1 279.2,598.0 280.8,597.7 282.4,597.7 284.0,597.2 285.6,596.5 287.2,597.2 288.8,598.4 290.4,598.8 292.0,598.9 293.6,599.3 295.2,599.4 296.8,599.2 298.4,599.7 300.0,600.6 301.6,600.6 303.2,600.1 304.8,600.2 306.4,600.1 308.0,599.7 309.6,600.0 311.2,600.5 312.8,600.1 314.4,599.1 316.0,598.8 317.6,598.5 319.2,597.8 320.8,598.6 322.4,599.9 324.0,600.1 325.6,599.9 327.2,600.3 328.8,600.9 330.4,600.7 332.0,600.8 333.6,601.3 335.2,600.8 336.8,599.8 338.4,599.5 340.0,599.6 341.6,599.3 343.2,599.6 344.8,600.3 346.4,600.0 348.0,599.2 349.6,599.3 351.2,599.8 352.8,599.8 354.4,600.0 356.0,600.5 357.6,600.2 359.2,599.3 360.8,599.3 362.4,599.8 364.0,599.7 365.6,599.6 367.2,599.8 368.8,599.3 370.4,598.4 372.0,598.5 373.6,599.1 375.2,599.0 376.8,598.8 378.4,598.9 380.0,598.5 381.6,597.6 381.9,598.3" fill="none" stroke="#888" stroke-width="1.9" stroke-linejoin="round" stroke-linecap="round"/>
<polyline points="61.8,599.5 69.2,600.0 73.0,600.8 76.8,599.5 80.5,598.0 83.0,600.5 86.8,599.5 90.5,600.8 95.0,600.8 99.8,602.7 106.5,594.0 112.3,587.3 117.1,581.5 121.0,577.7 123.8,576.7 125.4,571.9 127.7,573.5 130.6,571.9 133.5,572.9 136.3,569.0 139.2,566.2 143.1,560.4 146.9,554.6 150.8,547.9 153.7,545.0 156.5,544.0 157.5,538.3 159.0,543.1 160.4,539.2 162.3,545.0 164.2,540.2 167.1,538.3 170.0,532.5 172.9,534.4 174.8,529.6 177.7,532.5 180.6,530.6 185.4,530.6 188.3,526.7 192.1,525.8 195.0,524.8 195.9,523.8 198.0,525.2 201.2,524.8 205.4,529.0 207.5,530.1 211.7,529.0 214.9,526.9 218.1,523.8 220.2,526.5 223.4,524.4 225.5,527.3 228.7,530.1 230.8,528.0 235.0,526.9 238.2,525.2 241.3,525.9 244.5,528.0 247.7,527.3 249.4,530.7 250.9,526.5 252.3,529.5 255.1,525.9 258.3,528.0 262.5,529.5 265.7,531.2 268.9,528.6 273.1,532.2 276.3,529.5 279.4,526.5 281.5,528.6 283.2,529.3 285.3,530.0 288.5,533.6 291.6,536.3 294.8,535.7 298.0,534.6 300.1,532.5 303.3,534.2 306.4,536.3 309.6,535.7 311.7,532.1 313.8,532.9 317.0,532.1 319.1,535.7 321.3,533.6 324.4,536.3 326.5,532.5 329.7,531.4 332.9,531.4 336.1,533.6 339.2,536.7 343.5,538.4 347.7,539.9 351.9,541.0 355.1,538.8 357.2,532.5 360.4,533.6 362.5,532.5 366.7,535.7 371.0,537.8 373.1,535.7 375.2,542.0 376.9,538.8 377.9,535.7 379.0,511.3 380.1,510.9 381.5,514.5 382.6,517.7" fill="none" stroke="#000" stroke-width="2.0" stroke-linejoin="round" stroke-linecap="round"/>
<text x="425.20" y="542.80" font-size="13" text-anchor="start" font-weight="normal" >Stimulus</text>
<rect x="397.55" y="551.35" width="22.60" height="9.60" fill="#fff" stroke="#000" stroke-width="1.3"/>
<rect x="397.55" y="551.35" width="11.78" height="9.60" fill="#000" stroke="#000" stroke-width="1.3"/>
<line x1="409.33" y1="551.20" x2="409.33" y2="561.10" stroke="#000" stroke-width="1.9"/>
<line x1="409.33" y1="555.82" x2="420.20" y2="555.82" stroke="#000" stroke-width="1.6"/>
<text x="425.20" y="561.70" font-size="10.6">CaCl<tspan font-size="6.5" dy="2.5">2</tspan></text>
<rect x="397.55" y="566.85" width="22.60" height="9.80" fill="#fff" stroke="#000" stroke-width="1.3"/>
<rect x="397.55" y="566.85" width="11.78" height="9.80" fill="#888" stroke="#000" stroke-width="1.3"/>
<line x1="409.33" y1="566.70" x2="409.33" y2="576.80" stroke="#000" stroke-width="1.9"/>
<line x1="409.33" y1="571.42" x2="420.20" y2="571.42" stroke="#000" stroke-width="1.6"/>
<text x="425.20" y="576.00" font-size="10.6">S28690</text>
<line x1="425.20" y1="544.20" x2="475.30" y2="544.20" stroke="#000" stroke-width="0.9"/>
</svg>
</body></html>
